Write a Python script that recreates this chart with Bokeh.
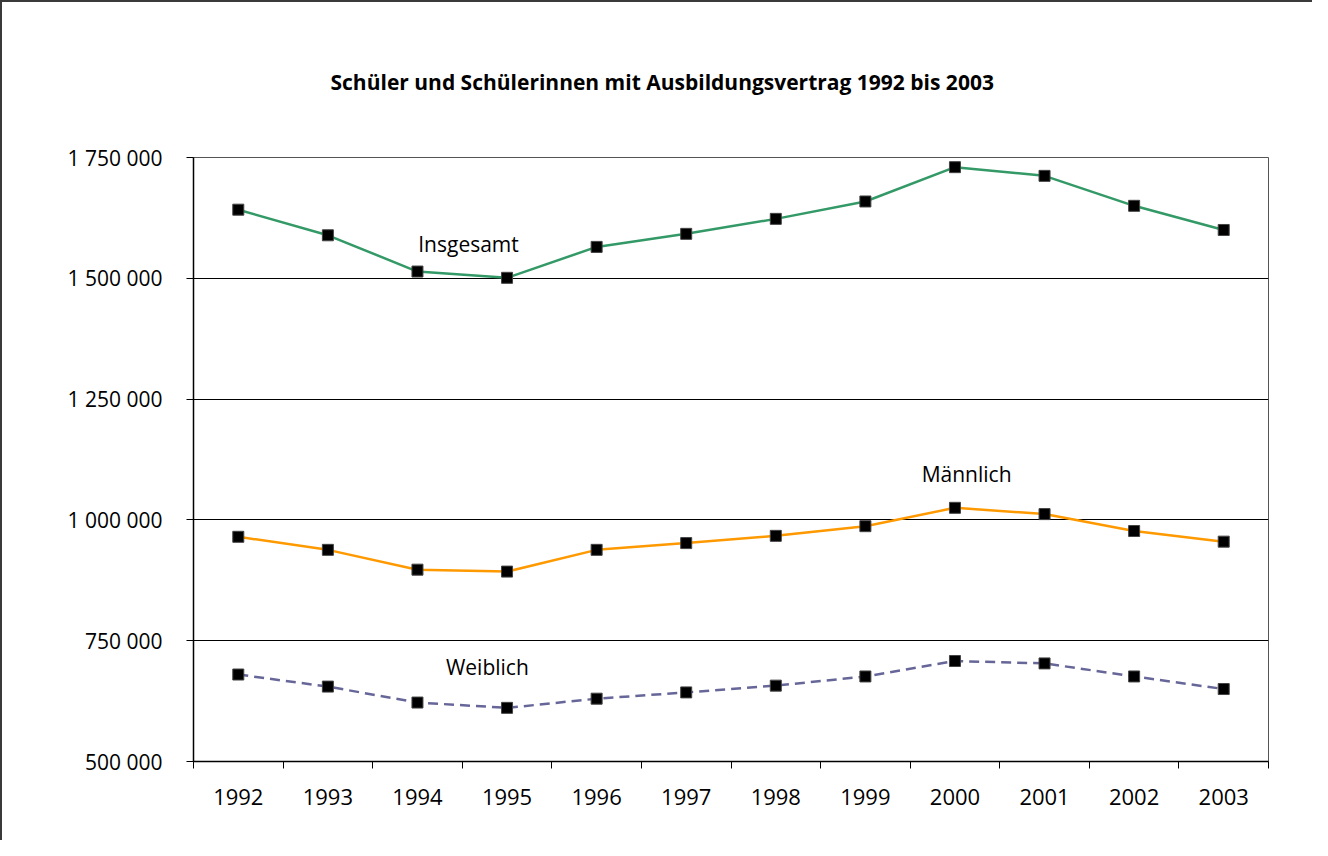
from bokeh.plotting import figure
from bokeh.models import FixedTicker, Label, Range1d
from bokeh.embed import file_html
from bokeh.resources import INLINE
import numpy as np

years = ["1992", "1993", "1994", "1995", "1996", "1997",
         "1998", "1999", "2000", "2001", "2002", "2003"]
insgesamt = [1642000, 1589000, 1514000, 1501000, 1565000, 1592000,
             1623000, 1659000, 1730000, 1712000, 1650000, 1600000]
maennlich = [965000, 938000, 897000, 893000, 938000, 952000,
             967000, 987000, 1025000, 1012000, 977000, 955000]
weiblich = [680000, 655000, 622000, 611000, 630000, 643000,
            657000, 676000, 708000, 703000, 676000, 650000]
y_ticks = [500000, 750000, 1000000, 1250000, 1500000, 1750000]
y_tick_labels = ["500 000", "750 000", "1 000 000", "1 250 000", "1 500 000", "1 750 000"]
title_text = "Schüler und Schülerinnen mit Ausbildungsvertrag 1992 bis 2003"
series_names = ["Insgesamt", "Männlich", "Weiblich"]

FONT = "Open Sans"
W, H = 1312, 840
BL, BT = 191, 155
FW, FH = 1075, 604
BR, BB = W - BL - FW, H - BT - FH

xpos = np.arange(len(years)) + 0.5

p = figure(width=W, height=H, output_backend="svg", toolbar_location=None,
           x_range=Range1d(0, len(years)), y_range=Range1d(500000, 1750000),
           min_border_left=BL, min_border_right=BR, min_border_top=BT,
           min_border_bottom=BB,
           styles={"border-left": "2px solid #3a3a3a", "border-top": "2px solid #3a3a3a"})

p.background_fill_color = "white"
p.border_fill_color = "white"
p.outline_line_color = "#555555"
p.outline_line_width = 1

# title
p.title.text = title_text
p.title.align = "left"
p.title.offset = 137
p.title.standoff = 124
p.title.text_font = FONT
p.title.text_font_size = "21px"
p.title.text_font_style = "bold"
p.title.text_color = "black"

# grid
p.xgrid.grid_line_color = None
p.ygrid.grid_line_color = "black"
p.ygrid.grid_line_width = 1
p.ygrid.ticker = FixedTicker(ticks=y_ticks)

# y axis
p.yaxis.ticker = FixedTicker(ticks=y_ticks)
p.yaxis.major_label_overrides = {t: l for t, l in zip(y_ticks, y_tick_labels)}
p.yaxis.axis_line_color = "black"
p.yaxis.axis_line_width = 1.5
p.yaxis.major_tick_out = 7
p.yaxis.major_tick_in = 0
p.yaxis.minor_tick_line_color = None
p.yaxis.major_tick_line_color = "black"
p.yaxis.major_label_text_font = FONT
p.yaxis.major_label_text_font_size = "21px"
p.yaxis.major_label_text_color = "black"
p.yaxis.major_label_standoff = 24

# x axis: labels at centers, ticks at boundaries (minor ticks)
p.xaxis.ticker = FixedTicker(ticks=list(xpos), minor_ticks=list(range(len(years) + 1)))
p.xaxis.major_label_overrides = {float(x): y for x, y in zip(xpos, years)}
p.xaxis.axis_line_color = "black"
p.xaxis.axis_line_width = 1.5
p.xaxis.major_tick_line_color = None
p.xaxis.major_tick_out = 0
p.xaxis.major_tick_in = 0
p.xaxis.minor_tick_out = 7
p.xaxis.minor_tick_in = 0
p.xaxis.minor_tick_line_color = "black"
p.xaxis.major_label_text_font = FONT
p.xaxis.major_label_text_font_size = "22px"
p.xaxis.major_label_text_color = "black"
p.xaxis.major_label_standoff = 20

# series
p.line(xpos, insgesamt, line_color="#339966", line_width=2.5)
p.line(xpos, maennlich, line_color="#ff9900", line_width=2.5)
p.line(xpos, weiblich, line_color="#666699", line_width=2.5, line_dash="10 6")
for ser in (insgesamt, maennlich, weiblich):
    p.scatter(xpos, ser, marker="square", size=11, fill_color="black",
              line_color="#444444", line_width=1)

# series labels
lab_pos = [(3.07, 1570000), (8.63, 1095000), (3.28, 695000)]
for name, (lx, ly) in zip(series_names, lab_pos):
    p.add_layout(Label(x=lx, y=ly, text=name, text_align="center",
                       text_baseline="middle", text_font=FONT,
                       text_font_size="21px", text_color="black"))

open("out.html", "w").write(file_html(p, INLINE))
